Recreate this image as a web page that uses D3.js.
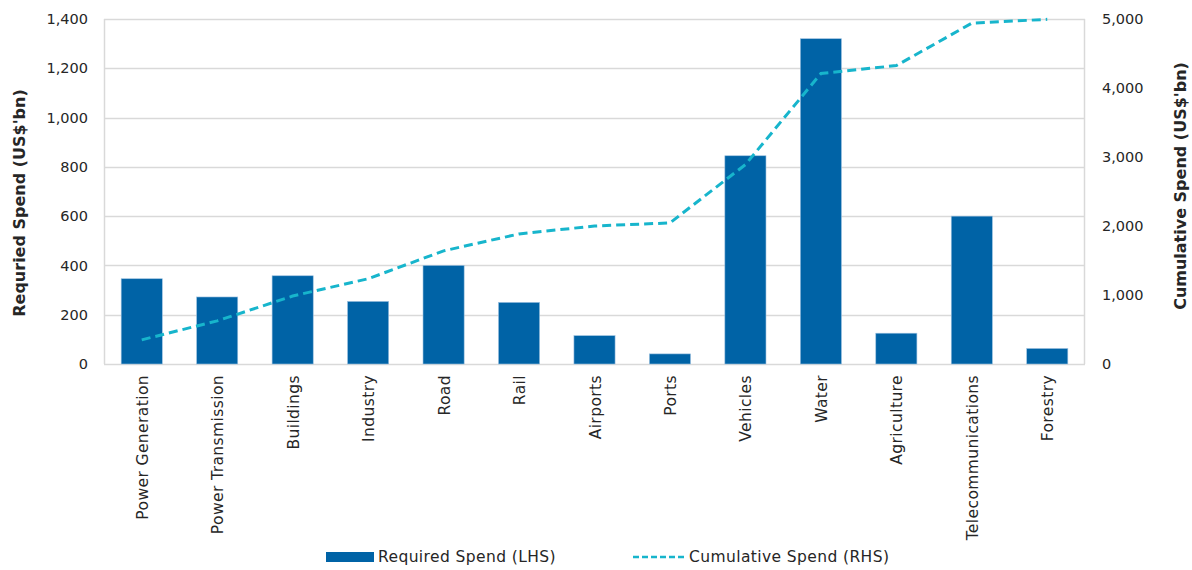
<!DOCTYPE html>
<html>
<head>
<meta charset="utf-8">
<script src="https://cdn.jsdelivr.net/npm/d3@7"></script>
<style>
  html, body { margin: 0; padding: 0; background: #fff; }
  svg { display: block; font-family: "DejaVu Sans", "Century Gothic", sans-serif; }
</style>
</head>
<body>
<svg id="chart" width="1192" height="570"></svg>
<script>
const categories = ["Power Generation", "Power Transmission", "Buildings", "Industry", "Road", "Rail", "Airports", "Ports", "Vehicles", "Water", "Agriculture", "Telecommunications", "Forestry"];
const requiredSpend = [346, 272, 358, 254, 400, 250, 115, 41, 845, 1320, 125, 600, 63];
const cumulativeSpend = [350, 625, 985, 1235, 1640, 1885, 2000, 2045, 2890, 4210, 4325, 4940, 4995];
const leftTicks = [0, 200, 400, 600, 800, 1000, 1200, 1400];
const rightTicks = [0, 1000, 2000, 3000, 4000, 5000];
const leftTitle = "Requried Spend (US$'bn)";
const rightTitle = "Cumulative Spend (US$'bn)";
const legendLabels = ["Required Spend (LHS)", "Cumulative Spend (RHS)"];

const W = 1192, H = 570;
const m = { top: 19, right: 107, bottom: 206, left: 104 };
const iw = W - m.left - m.right, ih = H - m.top - m.bottom;
const textColor = "#262626";
const barColor = "#0063a6";
const lineColor = "#17b5cc";
const gridColor = "#d9d9d9";

const svg = d3.select("#chart");
const g = svg.append("g").attr("transform", `translate(${m.left},${m.top})`);

const x = d3.scaleBand().domain(categories).range([0, iw]).paddingInner(0.455).paddingOuter(0.2275);
const yL = d3.scaleLinear().domain([0, 1400]).range([ih, 0]);
const yR = d3.scaleLinear().domain([0, 5000]).range([ih, 0]);

// gridlines
g.append("g").selectAll("line").data(leftTicks).join("line")
  .attr("x1", 0).attr("x2", iw)
  .attr("y1", d => Math.round(yL(d)) + 0.5).attr("y2", d => Math.round(yL(d)) + 0.5)
  .attr("stroke", gridColor).attr("stroke-width", 1.5);
// plot area sides
g.append("line").attr("x1", 0.5).attr("x2", 0.5).attr("y1", 0).attr("y2", ih).attr("stroke", gridColor).attr("stroke-width", 1.5);
g.append("line").attr("x1", iw - 0.5).attr("x2", iw - 0.5).attr("y1", 0).attr("y2", ih).attr("stroke", gridColor).attr("stroke-width", 1.5);

// bars
g.append("g").selectAll("rect").data(categories).join("rect")
  .attr("x", d => x(d))
  .attr("width", x.bandwidth())
  .attr("y", (d, i) => yL(requiredSpend[i]))
  .attr("height", (d, i) => ih - yL(requiredSpend[i]))
  .attr("fill", barColor)
  .attr("stroke", "#9cc1e0").attr("stroke-width", 0.6);

// cumulative line
const line = d3.line()
  .x((d, i) => x(categories[i]) + x.bandwidth() / 2)
  .y(d => yR(d));
g.append("path").datum(cumulativeSpend)
  .attr("d", line)
  .attr("fill", "none")
  .attr("stroke", lineColor)
  .attr("stroke-width", 3)
  .attr("stroke-dasharray", "9,5");

// left axis
const axL = d3.axisLeft(yL).tickValues(leftTicks).tickFormat(d3.format(",")).tickSize(0).tickPadding(16);
const gL = g.append("g").call(axL);
gL.select(".domain").remove();
gL.selectAll("text").attr("font-size", 14.5).attr("fill", textColor).attr("font-family", "DejaVu Sans, sans-serif");

// right axis
const axR = d3.axisRight(yR).tickValues(rightTicks).tickFormat(d3.format(",")).tickSize(0).tickPadding(17);
const gR = g.append("g").attr("transform", `translate(${iw},0)`).call(axR);
gR.select(".domain").remove();
gR.selectAll("text").attr("font-size", 14.5).attr("fill", textColor).attr("font-family", "DejaVu Sans, sans-serif");

// bottom axis labels
const axB = d3.axisBottom(x).tickSize(0).tickPadding(0);
const gB = g.append("g").attr("transform", `translate(0,${ih})`).call(axB);
gB.select(".domain").remove();
gB.selectAll("text")
  .attr("font-size", 15.5).attr("fill", textColor).attr("font-family", "DejaVu Sans, sans-serif")
  .attr("letter-spacing", "0.4px")
  .attr("text-anchor", "end")
  .attr("dy", null)
  .attr("y", 0)
  .attr("transform", "translate(6,11) rotate(-90)");

// axis titles
svg.append("text")
  .attr("transform", `translate(25,203) rotate(-90)`)
  .attr("text-anchor", "middle")
  .attr("font-size", 16).attr("font-weight", "bold").attr("fill", textColor)
  .text(leftTitle);
svg.append("text")
  .attr("transform", `translate(1186,186) rotate(-90)`)
  .attr("text-anchor", "middle")
  .attr("font-size", 16).attr("font-weight", "bold").attr("fill", textColor)
  .text(rightTitle);

// legend
const lg = svg.append("g").attr("transform", "translate(0,557)");
lg.append("rect").attr("x", 326).attr("y", -5).attr("width", 48).attr("height", 10).attr("fill", barColor);
lg.append("text").attr("x", 378).attr("y", 0).attr("dy", "0.35em")
  .attr("font-size", 15.5).attr("letter-spacing", "0.4px").attr("fill", textColor).text(legendLabels[0]);
lg.append("line").attr("x1", 633).attr("x2", 685).attr("y1", 0).attr("y2", 0)
  .attr("stroke", lineColor).attr("stroke-width", 2.5).attr("stroke-dasharray", "6,3");
lg.append("text").attr("x", 689).attr("y", 0).attr("dy", "0.35em")
  .attr("font-size", 15.5).attr("letter-spacing", "0.4px").attr("fill", textColor).text(legendLabels[1]);
</script>
</body>
</html>
